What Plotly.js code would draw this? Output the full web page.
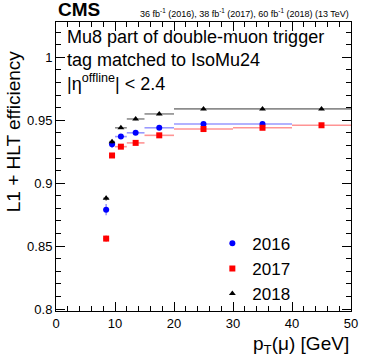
<!DOCTYPE html>
<html>
<head>
<meta charset="utf-8">
<script src="https://cdn.plot.ly/plotly-3.0.1.min.js"></script>
<style>
  html, body { margin: 0; padding: 0; background: #fff; }
  #chart { width: 374px; height: 359px; }
</style>
</head>
<body>
<div id="chart"></div>
<script>
// bin centres and half widths in pT (GeV)
var pt = [8.5, 9.5, 11, 13.5, 17.5, 25, 35, 45];
var ptErr = [0.5, 0.5, 1, 1.5, 2.5, 5, 5, 5];

var years = ["2016", "2017", "2018"];

// 2016 stops at 40 GeV
var eff2016 = [0.879, 0.931, 0.937, 0.940, 0.944, 0.947, 0.947];
var err2016 = [0.0045, 0.003, 0.0015, 0.0012, 0.001, 0.001, 0.001];
var eff2017 = [0.856, 0.922, 0.929, 0.932, 0.938, 0.943, 0.944, 0.946];
var err2017 = [0.0025, 0.002, 0.0015, 0.001, 0.001, 0.001, 0.001, 0.001];
var eff2018 = [0.888, 0.933, 0.944, 0.951, 0.955, 0.959, 0.959, 0.959];
var err2018 = [0.002, 0.0015, 0.001, 0.001, 0.001, 0.001, 0.001, 0.001];

var FONT = "Liberation Sans, Arial, Helvetica, sans-serif";

function series(name, y, ey, color, errColor, symbol, size) {
    var n = y.length;
    return {
        x: pt.slice(0, n),
        y: y,
        name: name,
        type: "scatter",
        mode: "markers",
        marker: {color: color, symbol: symbol, size: size},
        error_x: {type: "data", array: ptErr.slice(0, n), color: errColor, thickness: 1.6, width: 0},
        error_y: {type: "data", array: ey, color: errColor, thickness: 1.6, width: 0},
        cliponaxis: false
    };
}

var traces = [
    series(years[0], eff2016, err2016, "#0000ff", "rgba(70,70,255,0.55)", "circle", 6),
    series(years[1], eff2017, err2017, "#ff0000", "rgba(255,60,60,0.55)", "square", 6),
    series(years[2], eff2018, err2018, "#000000", "rgba(0,0,0,0.45)", "triangle-up", 6)
];

var axisCommon = {
    showline: true, mirror: "ticks", linecolor: "#000", linewidth: 1,
    ticks: "inside", ticklen: 9, tickcolor: "#000", tickwidth: 1,
    showgrid: false, zeroline: false,
    tickfont: {family: FONT, size: 13, color: "#000"}
};

var layout = {
    width: 374, height: 359,
    margin: {l: 56, r: 23, t: 22, b: 48},
    paper_bgcolor: "#fff", plot_bgcolor: "#fff",
    font: {family: FONT, color: "#000"},
    showlegend: true,
    legend: {
        x: 0.53, y: 0.295, xanchor: "left", yanchor: "top",
        font: {family: FONT, size: 17, color: "#000"},
        bgcolor: "rgba(0,0,0,0)", itemwidth: 30
    },
    xaxis: Object.assign({}, axisCommon, {
        range: [0, 50], dtick: 10,
        minor: {dtick: 2, ticks: "inside", ticklen: 5, tickcolor: "#000"},
        title: {text: ""}
    }),
    yaxis: Object.assign({}, axisCommon, {
        range: [0.7985, 1.028], tickvals: [0.8, 0.85, 0.9, 0.95, 1],
        ticktext: ["0.8", "0.85", "0.9", "0.95", "1"],
        minor: {dtick: 0.01, tick0: 0.8, ticks: "inside", ticklen: 5, tickcolor: "#000"},
        title: {text: ""}
    }),
    annotations: [
        {xref: "paper", yref: "paper", x: 0, y: 1, xanchor: "left", yanchor: "bottom", yshift: 0,
         text: "<b>CMS</b>", showarrow: false, font: {family: FONT, size: 19}},
        {xref: "paper", yref: "paper", x: 1, y: 1, xanchor: "right", yanchor: "bottom", yshift: 1,
         text: "36 fb<sup>-1</sup> (2016), 38 fb<sup>-1</sup> (2017), 60 fb<sup>-1</sup> (2018) (13 TeV)",
         showarrow: false, font: {family: FONT, size: 9}},
        {xref: "paper", yref: "paper", x: 0.03, y: 0.99, xanchor: "left", yanchor: "top",
         align: "left", text: "Mu8 part of double-muon trigger<br>tag matched to IsoMu24<br>|η<sup>offline</sup>| &lt; 2.4",
         showarrow: false, font: {family: FONT, size: 18}},
        {xref: "paper", yref: "paper", x: 1, y: -0.07, xanchor: "right", yanchor: "top",
         text: "p<sub>T</sub>(μ) [GeV]", showarrow: false, font: {family: FONT, size: 19}},
        {xref: "paper", yref: "paper", x: -0.145, y: 0.91, xanchor: "center", yanchor: "top", textangle: -90,
         text: "L1 + HLT efficiency", showarrow: false, font: {family: FONT, size: 19}}
    ]
};

Plotly.newPlot("chart", traces, layout, {displayModeBar: false, staticPlot: true});
</script>
</body>
</html>
